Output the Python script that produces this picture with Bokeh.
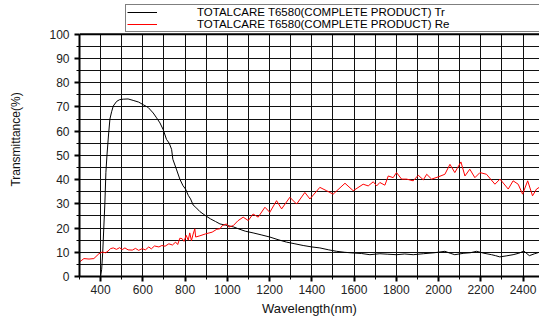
from bokeh.plotting import figure
from bokeh.models import (Range1d, SingleIntervalTicker, Legend, LegendItem, Span)
from bokeh.embed import file_html
from bokeh.resources import INLINE

tr_nm = [400, 405, 410, 415, 420, 425, 430, 437, 444, 452, 460, 476, 490, 507, 530, 554,
         580, 602, 625, 649, 665, 681, 696, 712, 725, 736, 742, 760, 775, 790, 802, 815,
         826, 838, 850, 870, 897, 920, 944, 965, 992, 1028, 1052, 1085, 1122, 1160, 1201,
         1240, 1280, 1320, 1359, 1400, 1438, 1480, 1517, 1555, 1596, 1635, 1675, 1722,
         1760, 1801, 1840, 1880, 1928, 1980, 2030, 2055, 2077, 2120, 2150, 2180, 2215,
         2251, 2270, 2290, 2320, 2353, 2380, 2404, 2430, 2455, 2477]
tr_val = [0, 3, 10, 20, 30, 43, 50, 58, 65, 68, 70.4, 72.3, 73, 73.2, 73.3, 72.7,
          72, 70.9, 69.8, 67.5, 65.5, 63.4, 60.7, 56.6, 55, 52.5, 48.4, 44, 40.2, 37.5, 36.1, 33.5,
          32, 29.5, 28.6, 26.8, 25.1, 23.8, 22.7, 21.7, 21.2, 20.5, 19.7, 18.7, 18.0, 17.2, 16.3,
          15.2, 14.2, 13.5, 12.8, 12.2, 11.8, 11.0, 10.4, 10.0, 9.7, 9.5, 9.0, 9.4,
          9.2, 9.0, 9.3, 9.0, 9.4, 9.8, 10.4, 9.6, 9.0, 9.6, 9.8, 10.4, 9.6,
          9.0, 8.6, 8.1, 8.5, 9.0, 9.6, 10.5, 8.6, 9.4, 10.0]

re_nm = [300, 321, 345, 368, 392, 407, 424, 435, 447, 460, 475, 490, 502, 515, 530, 550,
         565, 580, 597, 612, 628, 640, 655, 676, 690, 705, 723, 740, 755, 765, 775, 786,
         795, 805, 815, 822, 830, 838, 846, 850, 870, 897, 928, 950, 965, 976, 996, 1007,
         1028, 1050, 1075, 1099, 1122, 1146, 1178, 1201, 1233, 1257, 1296, 1328, 1367,
         1391, 1438, 1470, 1501, 1557, 1596, 1643, 1667, 1691, 1707, 1722, 1746, 1762,
         1785, 1801, 1825, 1849, 1880, 1904, 1928, 1944, 1967, 1998, 2030, 2054, 2077,
         2106, 2125, 2148, 2172, 2196, 2227, 2267, 2291, 2330, 2353, 2377, 2398, 2422,
         2445, 2464, 2477]
re_val = [6.0, 7.4, 7.2, 7.4, 9.4, 10.1, 9.8, 10.5, 11.5, 11.8, 11.2, 11.9, 11.1, 11.8, 11.0, 10.9,
          11.6, 10.8, 11.5, 11.0, 12.2, 11.4, 12.6, 12.2, 12.8, 12.5, 13.5, 13.0, 14.2, 13.2, 15.8, 15.6,
          14.5, 17.0, 15.0, 18.0, 14.8, 17.5, 19.7, 16.3, 16.8, 17.6, 18.3, 19.5, 19.7, 21.0, 21.7, 20.4,
          21.0, 23.0, 24.5, 23.1, 25.8, 24.5, 28.6, 26.5, 31.3, 27.9, 32.7, 29.9, 34.7,
          32.0, 36.8, 35.4, 34.0, 38.5, 35.4, 38.1, 37.4, 39.1, 37.4, 38.8, 37.7, 41.5,
          40.8, 42.9, 40.2, 40.2, 39.5, 41.8, 39.9, 42.2, 40.2, 41.1, 42.2, 46.3, 42.9,
          47.3, 41.5, 44.3, 40.8, 42.9, 42.2, 38.1, 40.2, 36.1, 39.5, 38.1, 34.0, 39.5,
          33.3, 36.1, 36.8]

series_labels = ["TOTALCARE T6580(COMPLETE PRODUCT) Tr",
                 "TOTALCARE T6580(COMPLETE PRODUCT) Re"]
x_label = "Wavelength(nm)"
y_label = "Transmittance(%)"
x_min, x_max = 300, 2478
y_min, y_max = 0, 100

FONT = "Liberation Sans"
TOP_BORDER = 2
BOTTOM_BORDER = 40
FIG_H = 318
PX_PER_UNIT = 2.44
frame_h = FIG_H - TOP_BORDER - BOTTOM_BORDER
y_top = frame_h / PX_PER_UNIT  # extra headroom above 100 holds the legend box

p = figure(width=539, height=FIG_H, x_range=Range1d(x_min, x_max),
           y_range=Range1d(y_min, y_top),
           output_backend="svg", toolbar_location=None,
           min_border_left=79, min_border_right=0, min_border_top=TOP_BORDER,
           min_border_bottom=BOTTOM_BORDER)
p.outline_line_color = None
p.background_fill_color = "white"

r_tr = p.line(tr_nm, tr_val, line_color="black", line_width=1)
r_re = p.line(re_nm, re_val, line_color="#ff0000", line_width=1)

xt = SingleIntervalTicker(interval=200, num_minor_ticks=2)
yt = SingleIntervalTicker(interval=10, num_minor_ticks=2)
p.xaxis.ticker = xt
p.yaxis.ticker = yt
p.xgrid.ticker = xt
p.ygrid.ticker = yt
p.yaxis.bounds = (y_min, y_max)
p.ygrid.bounds = (y_min, y_max)
has_cross = "cross_bounds" in p.xgrid.properties()
if has_cross:
    p.xgrid.cross_bounds = (y_min, y_max)
for g in (p.xgrid, p.ygrid):
    g.grid_line_color = "#111111"
    g.grid_line_width = 1
    g.grid_line_alpha = 1
    g.minor_grid_line_color = "#111111"
    g.minor_grid_line_width = 1

if not has_cross:
    # white band hiding the grid above the 100 % line (legend area)
    p.quad(left=[x_min], right=[x_max], bottom=[y_max], top=[y_top + 5],
           fill_color="white", line_color=None, level="underlay")

for ax in (p.xaxis, p.yaxis):
    ax.axis_line_width = 2
    ax.axis_line_color = "black"
    ax.major_tick_in = 0
    ax.major_tick_out = 5
    ax.minor_tick_in = 0
    ax.minor_tick_out = 3
    ax.major_tick_line_width = 2
    ax.minor_tick_line_width = 1
    ax.major_label_text_font = FONT
    ax.major_label_text_font_size = "12px"
    ax.major_label_text_color = "#222222"
    ax.axis_label_text_font = FONT
    ax.axis_label_text_font_style = "normal"
    ax.axis_label_text_color = "#111111"

p.xaxis.axis_label = x_label
p.yaxis.axis_label = y_label
p.xaxis.major_label_standoff = 3
p.yaxis.major_label_standoff = 5
p.xaxis.axis_label_text_font_size = "13px"
p.yaxis.axis_label_text_font_size = "12px"
p.xaxis.axis_label_standoff = 4
p.yaxis.axis_label_standoff = 23

p.add_layout(Span(location=y_max, dimension="width", line_color="black", line_width=2))

legend = Legend(items=[LegendItem(label=series_labels[0], renderers=[r_tr]),
                       LegendItem(label=series_labels[1], renderers=[r_re])],
                location=(46, y_max * PX_PER_UNIT), orientation="vertical", margin=0,
                padding=1, spacing=0, glyph_width=30, glyph_height=12, label_height=12,
                label_standoff=40, label_width=345,
                label_text_font=FONT, label_text_font_size="11.5px",
                label_text_color="black",
                border_line_color="black", border_line_width=1,
                background_fill_color="white", background_fill_alpha=1)
p.add_layout(legend)

open("out.html", "w").write(file_html(p, INLINE))
